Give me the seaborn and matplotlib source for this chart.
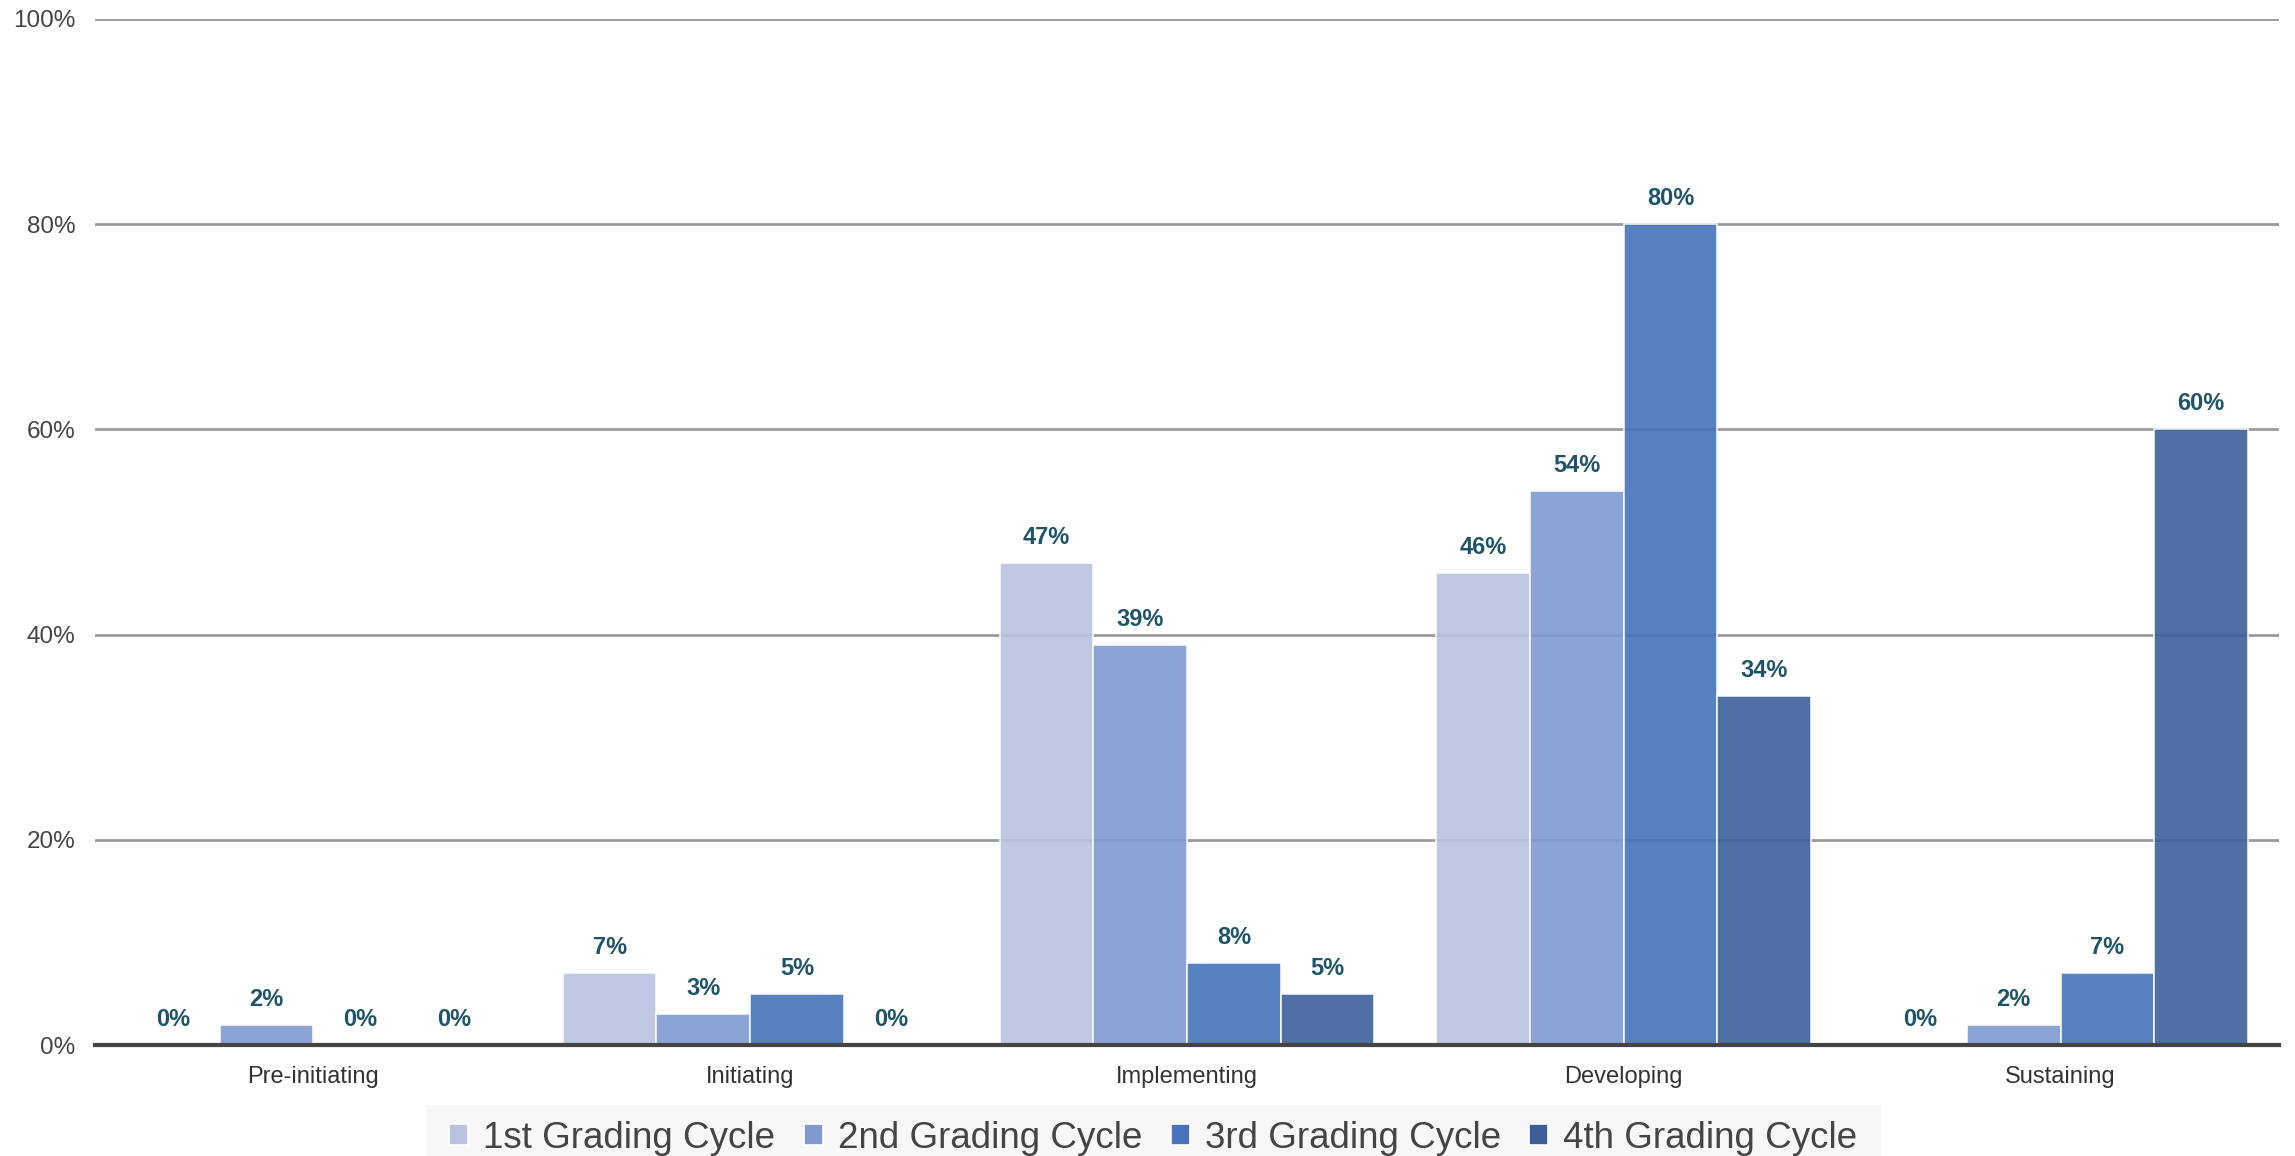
import matplotlib
matplotlib.use("Agg")
import matplotlib.pyplot as plt
from matplotlib.patches import Rectangle
import seaborn as sns
import pandas as pd

# Share of schools at each stage, per grading cycle (percent)
stages = ["Pre-initiating", "Initiating", "Implementing", "Developing", "Sustaining"]
cycles = ["1st Grading Cycle", "2nd Grading Cycle", "3rd Grading Cycle", "4th Grading Cycle"]
cycle1 = [0, 7, 47, 46, 0]
cycle2 = [2, 3, 39, 54, 2]
cycle3 = [0, 5, 8, 80, 7]
cycle4 = [0, 0, 5, 34, 60]
y_ticks = [0, 20, 40, 60, 80, 100]

palette = ["#B8C3E1", "#8099D1", "#4673BB", "#3C5F9B"]

rows = []
for cyc, vals in zip(cycles, [cycle1, cycle2, cycle3, cycle4]):
    for st, v in zip(stages, vals):
        rows.append({"Stage": st, "Cycle": cyc, "Percent": v})
df = pd.DataFrame(rows)

sns.set_theme(style="white")
plt.rcParams["font.family"] = ["Liberation Sans", "DejaVu Sans"]

fig = plt.figure(figsize=(22.95, 11.56), dpi=100)
ax = fig.add_axes([0.0414, 0.096, 0.9516, 0.8876])

sns.barplot(data=df, x="Stage", y="Percent", hue="Cycle", order=stages,
            hue_order=cycles, palette=palette, width=0.858, alpha=0.9,
            edgecolor="white", linewidth=1.2, saturation=1, errorbar=None,
            ax=ax, zorder=3)

ax.set_xlim(-0.5, 4.5)
ax.set_ylim(0, 100)
ax.set_yticks(y_ticks)
ax.set_yticklabels([f"{t}%" for t in y_ticks])
ax.yaxis.grid(True, color="#9a9a9a", linewidth=2, zorder=0)
ax.set_axisbelow(True)
ax.tick_params(axis="y", length=0, pad=14, labelsize=17.5, labelcolor="#444444")
ax.tick_params(axis="x", length=0, pad=15, labelsize=17, labelcolor="#333333")
ax.set_xlabel("")
ax.set_ylabel("")

for side in ["left", "right", "top"]:
    ax.spines[side].set_visible(False)
ax.spines["bottom"].set_color("#444444")
ax.spines["bottom"].set_linewidth(3)
ax.spines["bottom"].set_zorder(5)

for cont in ax.containers:
    ax.bar_label(cont, labels=[f"{v:.0f}%" for v in cont.datavalues],
                 padding=10, fontsize=17, fontweight="bold", color="#1F5468")

# Light panel behind the legend strip
fig.patches.append(Rectangle((0.1856, 0.0), 0.634, 0.0445,
                             transform=fig.transFigure, facecolor="#F7F7F7",
                             edgecolor="none", zorder=0))

handles, labels = ax.get_legend_handles_labels()
ax.legend_.remove()
leg = fig.legend(handles, labels, loc="center", bbox_to_anchor=(0.5025, 0.0155),
                 ncol=4, fontsize=26.5, frameon=False,
                 handlelength=0.52, handleheight=0.5, handletextpad=0.4,
                 columnspacing=0.78, borderpad=0.3, labelcolor="#444444")
for h in leg.legend_handles:
    h.set_alpha(1)

fig.savefig("out.png", dpi=100, facecolor="white")
